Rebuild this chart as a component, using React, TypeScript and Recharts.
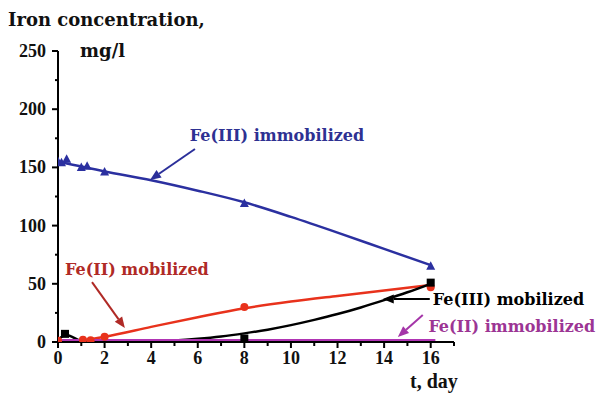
import React from 'react';
import { ComposedChart, Line, Scatter, XAxis, YAxis, ReferenceLine, ReferenceDot, Label } from 'recharts';

// Fitted curves (t in days, concentration in mg/l)
const fe3ImmobilizedCurve = [
  { t: 0, v: 155 }, { t: 2, v: 146.5 }, { t: 4, v: 139 }, { t: 6, v: 130 }, { t: 8, v: 120 },
  { t: 10, v: 107.5 }, { t: 12, v: 94 }, { t: 14, v: 80 }, { t: 16, v: 66 },
];
const fe2MobilizedCurve = [
  { t: 0, v: 1 }, { t: 1, v: 1.5 }, { t: 2, v: 4.5 }, { t: 4, v: 13 }, { t: 6, v: 21.3 }, { t: 8, v: 29 },
  { t: 10, v: 34.8 }, { t: 12, v: 39.6 }, { t: 14, v: 44.2 }, { t: 16, v: 49 },
];
const fe3MobilizedCurve = [
  { t: 0, v: 2 }, { t: 0.35, v: 6 }, { t: 1, v: 1 }, { t: 2, v: 0 }, { t: 3, v: 0 }, { t: 4, v: 0.3 },
  { t: 5, v: 1.2 }, { t: 6, v: 2.7 }, { t: 7, v: 4.7 }, { t: 8, v: 7.4 }, { t: 9, v: 10.6 },
  { t: 10, v: 14.5 }, { t: 11, v: 19 }, { t: 12, v: 24 }, { t: 13, v: 29.7 }, { t: 14, v: 36 },
  { t: 15, v: 42.7 }, { t: 16, v: 50 },
];
const fe2ImmobilizedCurve = [
  { t: 0, v: 0.8 }, { t: 8, v: 0.8 }, { t: 16.2, v: 0.8 },
];

// Measured points
const fe3ImmobilizedPoints = [
  { t: 0, v: 155 }, { t: 0.15, v: 154 }, { t: 0.37, v: 157 }, { t: 1, v: 150 }, { t: 1.25, v: 151 },
  { t: 2, v: 146 }, { t: 8, v: 119 }, { t: 16, v: 65 },
];
const fe2MobilizedPoints = [
  { t: 0, v: 1 }, { t: 1.07, v: 2 }, { t: 1.4, v: 1.5 }, { t: 2, v: 4.5 }, { t: 8, v: 30 }, { t: 16, v: 47 },
];
const fe3MobilizedPoints = [
  { t: 0.3, v: 7 }, { t: 8, v: 3 }, { t: 16, v: 51 },
];

const xTicks = [0, 1, 2, 3, 4, 5, 6, 7, 8, 9, 10, 11, 12, 13, 14, 15, 16, 17];
const yTicks = [0, 25, 50, 75, 100, 125, 150, 175, 200, 225, 250];

// Annotations: label anchor and arrow [from, to] in data coordinates
const annotations = [
  { text: 'Fe(III) immobilized', color: '#2e3192', lineColor: '#2b2f9a', at: { t: 5.66, v: 177 }, from: { t: 5.88, v: 165.8 }, to: { t: 3.95, v: 139.2 } },
  { text: 'Fe(II) mobilized', color: '#b02a26', lineColor: '#b02a26', at: { t: 0.3, v: 62 }, from: { t: 1.46, v: 51.5 }, to: { t: 2.87, v: 12 } },
  { text: 'Fe(III) mobilized', color: '#000000', lineColor: '#000000', at: { t: 16.09, v: 36.5 }, from: { t: 15.96, v: 37 }, to: { t: 13.94, v: 37 } },
  { text: 'Fe(II) immobilized', color: '#9c3594', lineColor: '#a435a8', at: { t: 15.9, v: 13.7 }, from: { t: 15.66, v: 23.2 }, to: { t: 14.59, v: 4.3 } },
];

const tickFont = { fontFamily: '"Liberation Serif", serif', fontWeight: 700, fontSize: 18 };
const annFont = { fontFamily: '"DejaVu Serif", serif', fontWeight: 700, fontSize: 16 };

const YTick = (props: any) => {
  const { x, y, payload } = props;
  const major = payload.value % 50 === 0;
  return (
    <g>
      <line x1={x - (major ? 6 : 3)} x2={x} y1={y} y2={y} stroke="#000" strokeWidth={2} />
      {major && (
        <text x={x - 12} y={y} textAnchor="end" dominantBaseline="central" fill="#111" style={tickFont}>
          {payload.value}
        </text>
      )}
    </g>
  );
};

const XTick = (props: any) => {
  const { x, y, payload } = props;
  const major = payload.value % 2 === 0 && payload.value <= 16;
  return (
    <g>
      <line x1={x} x2={x} y1={y} y2={y + (major ? 6 : 4)} stroke="#000" strokeWidth={2} />
      {major && (
        <text x={x} y={y + 16} textAnchor="middle" dominantBaseline="central" fill="#111" style={tickFont}>
          {payload.value}
        </text>
      )}
    </g>
  );
};

const triangle = (color: string) => (p: any) => {
  const { cx, cy } = p;
  return <polygon points={`${cx},${cy - 5} ${cx - 4.5},${cy + 3.5} ${cx + 4.5},${cy + 3.5}`} fill={color} />;
};
const circle = (color: string) => (p: any) => <circle cx={p.cx} cy={p.cy} r={4} fill={color} />;
const square = (color: string) => (p: any) => <rect x={p.cx - 4} y={p.cy - 4} width={8} height={8} fill={color} />;

const arrowShape = (color: string) => (p: any) => {
  const { x1, y1, x2, y2 } = p;
  const ang = Math.atan2(y2 - y1, x2 - x1);
  const len = 11;
  const w = 4.5;
  const bx = x2 - len * Math.cos(ang);
  const by = y2 - len * Math.sin(ang);
  const px = -Math.sin(ang) * w;
  const py = Math.cos(ang) * w;
  return (
    <g>
      <line x1={x1} y1={y1} x2={bx} y2={by} stroke={color} strokeWidth={2} />
      <polygon points={`${x2},${y2} ${bx + px},${by + py} ${bx - px},${by - py}`} fill={color} />
    </g>
  );
};

const textShape = (text: string, color: string) => (p: any) => (
  <text x={p.cx} y={p.cy} dominantBaseline="central" fill={color} style={annFont}>
    {text}
  </text>
);

export default function App() {
  return (
    <div style={{ position: 'absolute', left: 0, top: 0, width: 602, height: 403, background: '#fff' }}>
      <ComposedChart width={602} height={403} margin={{ top: 51, right: 148, bottom: 0, left: 0 }}>
        <XAxis
          type="number"
          dataKey="t"
          domain={[0, 17]}
          ticks={xTicks}
          interval={0}
          tick={<XTick />}
          tickLine={false}
          tickSize={0}
          tickMargin={0}
          axisLine={{ stroke: '#000', strokeWidth: 2 }}
          height={61}
          allowDataOverflow
        >
          <Label
            content={(props: any) => {
              const vb = props.viewBox;
              return (
                <text x={vb.x + 352} y={vb.y + 46} fill="#111" style={{ ...tickFont, fontSize: 20 }}>
                  t, day
                </text>
              );
            }}
          />
        </XAxis>
        <YAxis
          type="number"
          domain={[0, 250]}
          ticks={yTicks}
          interval={0}
          tick={<YTick />}
          tickLine={false}
          tickSize={0}
          tickMargin={0}
          axisLine={{ stroke: '#000', strokeWidth: 2 }}
          width={58}
          allowDataOverflow
        >
          <Label
            content={(props: any) => {
              const vb = props.viewBox;
              return (
                <g>
                  <text x={8} y={vb.y - 25} fill="#111" style={{ ...annFont, fontSize: 18 }}>
                    Iron concentration,
                  </text>
                  <text x={80} y={vb.y + 6} fill="#111" style={{ ...annFont, fontSize: 18 }}>
                    mg/l
                  </text>
                </g>
              );
            }}
          />
        </YAxis>

        <Line data={fe3ImmobilizedCurve} dataKey="v" type="monotone" stroke="#2b30a0" strokeWidth={2.5} dot={false} isAnimationActive={false} />
        <Line data={fe2MobilizedCurve} dataKey="v" type="monotone" stroke="#e8321c" strokeWidth={2.5} dot={false} isAnimationActive={false} />
        <Line data={fe3MobilizedCurve} dataKey="v" type="monotone" stroke="#000" strokeWidth={2.5} dot={false} isAnimationActive={false} />
        <Scatter data={fe3ImmobilizedPoints} dataKey="v" shape={triangle('#2b30a0')} isAnimationActive={false} />
        <Scatter data={fe2MobilizedPoints} dataKey="v" shape={circle('#e8321c')} isAnimationActive={false} />
        <Scatter data={fe3MobilizedPoints} dataKey="v" shape={square('#000')} isAnimationActive={false} />
        <Line data={fe2ImmobilizedCurve} dataKey="v" type="linear" stroke="#b034b4" strokeWidth={4} dot={false} isAnimationActive={false} />

        {annotations.map((a) => (
          <ReferenceLine
            key={'l' + a.text}
            segment={[{ x: a.from.t, y: a.from.v }, { x: a.to.t, y: a.to.v }]}
            ifOverflow="visible"
            stroke={a.lineColor}
            shape={arrowShape(a.lineColor)}
          />
        ))}
        {annotations.map((a) => (
          <ReferenceDot
            key={'t' + a.text}
            x={a.at.t}
            y={a.at.v}
            r={0}
            ifOverflow="visible"
            shape={textShape(a.text, a.color)}
          />
        ))}
      </ComposedChart>
    </div>
  );
}
